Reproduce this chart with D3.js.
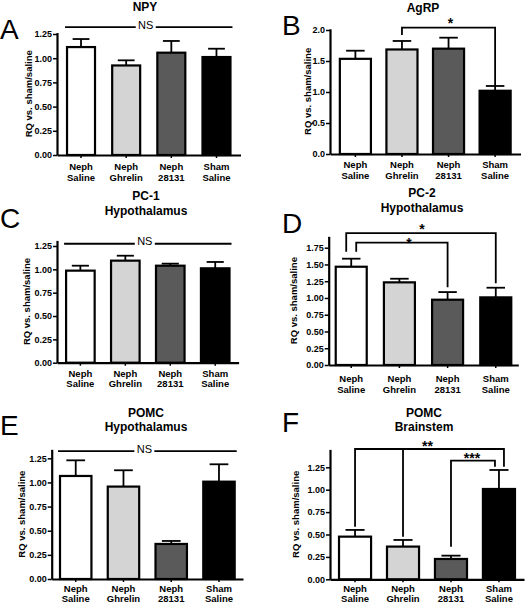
<!DOCTYPE html>
<html>
<head>
<meta charset="utf-8">
<script src="https://cdn.jsdelivr.net/npm/d3@7"></script>
<style>
  html, body { margin: 0; padding: 0; background: #fff; }
  svg { display: block; }
  text { font-family: "Liberation Sans", Arial, Helvetica, sans-serif; }
</style>
</head>
<body>
<svg id="chart" width="525" height="605"></svg>
<script>
// ---------------- DATA ----------------
const categories = ["Neph Saline", "Neph Ghrelin", "Neph 28131", "Sham Saline"];

const npyMean     = [1.115, 0.925, 1.057, 1.012];
const npySem      = [0.083, 0.053, 0.121, 0.086];
const agrpMean    = [1.535, 1.686, 1.699, 1.020];
const agrpSem     = [0.131, 0.137, 0.177, 0.077];
const pc1Mean     = [0.986, 1.093, 1.039, 1.011];
const pc1Sem      = [0.053, 0.053, 0.022, 0.068];
const pc2Mean     = [1.466, 1.233, 0.974, 1.009];
const pc2Sem      = [0.120, 0.054, 0.114, 0.144];
const pomcHypMean = [1.067, 0.957, 0.363, 1.008];
const pomcHypSem  = [0.162, 0.169, 0.031, 0.180];
const pomcBsMean  = [0.476, 0.365, 0.227, 1.008];
const pomcBsSem   = [0.075, 0.074, 0.037, 0.212];

const ticks125 = [0, 0.25, 0.5, 0.75, 1.0, 1.25];
const ticks200 = [0, 0.5, 1.0, 1.5, 2.0];
const ticks175 = [0, 0.25, 0.5, 0.75, 1.0, 1.25, 1.5, 1.75];

const panelLetters = ["A", "B", "C", "D", "E", "F"];
const panelTitles = [["NPY"], ["AgRP"], ["PC-1", "Hypothalamus"], ["PC-2", "Hypothalamus"],
                     ["POMC", "Hypothalamus"], ["POMC", "Brainstem"]];
const yAxisTitle = "RQ vs. sham/saline";
const nsLabel = "NS";

// ---------------- STYLE / LAYOUT ----------------
const barFills = ["#ffffff", "#d4d4d4", "#5a5a5a", "#000000"];
const FONT = '"Liberation Sans", Arial, Helvetica, sans-serif';

const panels = [
  { means: npyMean, sems: npySem, ticks: ticks125, fmt: ".2f",
    x0: 57, x1: 240.5, y0: 155, yRef: 34, ref: 1.25, ymax: 1.265, inner: 0.336, outer: 0.2,
    titleX: 145, titleY: [11], letterX: 0, letterY: 39, ylabOff: 29, catDy: [15, 26],
    ns: { y: 1.322 }, brackets: [] },
  { means: agrpMean, sems: agrpSem, ticks: ticks200, fmt: ".1f",
    x0: 330, x1: 520.5, y0: 154, yRef: 30, ref: 2.0, ymax: 2.02, inner: 0.29, outer: 0.19,
    titleX: 423, titleY: [12], letterX: 282, letterY: 35, ylabOff: 23, catDy: [14.3, 24.6],
    ns: null,
    brackets: [ { a: 1, da: 0, b: 3, db: 0, y: 2.037, ea: 1.92, eb: 1.10, mid: [], label: "*", lx: 2, ly: -8 } ] },
  { means: pc1Mean, sems: pc1Sem, ticks: ticks125, fmt: ".2f",
    x0: 57, x1: 238.6, y0: 362.7, yRef: 246, ref: 1.25, ymax: 1.31, inner: 0.32, outer: 0.18,
    titleX: 146, titleY: [200, 215], letterX: 0, letterY: 228, ylabOff: 31, catDy: [14, 24.3],
    ns: { y: 1.274 }, brackets: [] },
  { means: pc2Mean, sems: pc2Sem, ticks: ticks175, fmt: ".2f",
    x0: 328.7, x1: 518.3, y0: 365, yRef: 247.7, ref: 1.75, ymax: 1.92, inner: 0.315, outer: 0.125,
    titleX: 422, titleY: [197, 211.5], letterX: 282, letterY: 233, ylabOff: 35, catDy: [16.5, 27.5],
    ns: null,
    brackets: [
      { a: 0, da: -5, b: 3, db: 0, y: 1.966, ea: 1.691, eb: 1.219, mid: [], label: "*", lx: 1, ly: -7.6 },
      { a: 0, da: 5, b: 2, db: 0, y: 1.825, ea: 1.691, eb: 1.16, mid: [], label: "*", lx: 7, ly: -3 } ] },
  { means: pomcHypMean, sems: pomcHypSem, ticks: ticks125, fmt: ".2f",
    x0: 51.7, x1: 243, y0: 579, yRef: 458.3, ref: 1.25, ymax: 1.343, inner: 0.30, outer: 0.153,
    titleX: 146, titleY: [417, 431], letterX: 0, letterY: 435, ylabOff: 30, catDy: [12.8, 23.3],
    ns: { y: 1.325 }, brackets: [] },
  { means: pomcBsMean, sems: pomcBsSem, ticks: ticks125, fmt: ".2f",
    x0: 330, x1: 524, y0: 579.3, yRef: 467.3, ref: 1.25, ymax: 1.45, inner: 0.29, outer: 0.167,
    titleX: 424, titleY: [417, 431], letterX: 282, letterY: 432, ylabOff: 35, catDy: [12.7, 23.0],
    ns: null,
    brackets: [
      { a: 0, da: 0, b: 3, db: 5, y: 1.454, ea: 0.587, eb: 1.257, mid: [{ i: 1, e: 0.475 }], label: "**", lx: -2, ly: -6.5 },
      { a: 2, da: 0, b: 3, db: -4, y: 1.324, ea: 0.364, eb: 1.257, mid: [], label: "***", lx: -1, ly: -5.7 } ] }
];

const svg = d3.select("#chart");
svg.append("rect").attr("width", 525).attr("height", 605).attr("fill", "#fff");

function drawPanel(p, idx) {
  const g = svg.append("g");
  const x = d3.scaleBand().domain(categories).range([p.x0, p.x1])
    .paddingInner(p.inner).paddingOuter(p.outer);
  const bw = x.bandwidth();
  const cx = i => x(categories[i]) + bw / 2;
  const ppu = (p.y0 - p.yRef) / p.ref;
  const yTop = p.y0 - p.ymax * ppu;
  const y = d3.scaleLinear().domain([0, p.ymax]).range([p.y0, yTop]);

  // error bars (upper only)
  const eb = g.append("g").attr("stroke", "#000").attr("stroke-width", 1.8).attr("fill", "none");
  p.means.forEach((m, i) => {
    const top = y(m + p.sems[i]);
    eb.append("line").attr("x1", cx(i)).attr("x2", cx(i)).attr("y1", y(m)).attr("y2", top);
    eb.append("line").attr("x1", cx(i) - bw * 0.28).attr("x2", cx(i) + bw * 0.28).attr("y1", top).attr("y2", top);
  });

  // bars
  g.append("g").selectAll("rect").data(p.means).join("rect")
    .attr("x", (d, i) => x(categories[i]) + 1)
    .attr("y", d => y(d))
    .attr("width", bw - 2)
    .attr("height", d => y(0) - y(d))
    .attr("fill", (d, i) => barFills[i])
    .attr("stroke", "#000").attr("stroke-width", 2.2);

  // y axis
  const yAxis = d3.axisLeft(y).tickValues(p.ticks).tickFormat(d3.format(p.fmt))
    .tickSize(4).tickSizeOuter(0).tickPadding(1);
  const ya = g.append("g").attr("transform", `translate(${p.x0},0)`).call(yAxis);
  ya.select(".domain").attr("stroke-width", 2.2);
  ya.selectAll(".tick line").attr("stroke-width", 1.5);
  ya.selectAll(".tick text").attr("font-family", FONT).attr("font-weight", "bold")
    .attr("font-size", 9).attr("fill", "#000");

  // x axis
  const xAxis = d3.axisBottom(x).tickSize(3).tickSizeOuter(0).tickFormat("");
  const xa = g.append("g").attr("transform", `translate(0,${p.y0})`).call(xAxis);
  xa.select(".domain").attr("stroke-width", 2.2);
  xa.selectAll(".tick line").attr("stroke-width", 1.5);
  xa.selectAll(".tick").each(function(d) {
    const parts = d.split(" ");
    const t = d3.select(this);
    parts.forEach((s, k) => {
      t.append("text").attr("y", p.catDy[k]).attr("text-anchor", "middle")
        .attr("font-family", FONT).attr("font-weight", "bold").attr("font-size", 9.5)
        .attr("fill", "#000").text(s);
    });
  });

  // y axis title
  g.append("text")
    .attr("transform", `translate(${p.x0 - p.ylabOff},${(p.y0 + yTop) / 2}) rotate(-90)`)
    .attr("text-anchor", "middle").attr("dominant-baseline", "central")
    .attr("font-family", FONT).attr("font-weight", "bold").attr("font-size", 9.5)
    .text(yAxisTitle);

  // title
  panelTitles[idx].forEach((s, k) => {
    g.append("text").attr("x", p.titleX).attr("y", p.titleY[k]).attr("text-anchor", "middle")
      .attr("font-family", FONT).attr("font-weight", "bold").attr("font-size", 12).text(s);
  });

  // panel letter
  g.append("text").attr("x", p.letterX).attr("y", p.letterY)
    .attr("font-family", FONT).attr("font-size", 28).text(panelLetters[idx]);

  // NS line
  if (p.ns) {
    const xa0 = x(categories[0]) - 1, xb0 = x(categories[3]) + bw + 1;
    const ly = y(p.ns.y);
    const mid = (xa0 + xb0) / 2 - 3;
    const gap = 10;
    g.append("line").attr("x1", xa0).attr("x2", mid - gap).attr("y1", ly).attr("y2", ly)
      .attr("stroke", "#000").attr("stroke-width", 1.8);
    g.append("line").attr("x1", mid + gap).attr("x2", xb0).attr("y1", ly).attr("y2", ly)
      .attr("stroke", "#000").attr("stroke-width", 1.8);
    g.append("text").attr("x", mid).attr("y", ly + 1.5).attr("text-anchor", "middle")
      .attr("font-family", FONT).attr("font-size", 11).text(nsLabel);
  }

  // significance brackets
  p.brackets.forEach(b => {
    const xa1 = cx(b.a) + b.da, xb1 = cx(b.b) + b.db, ly = y(b.y);
    const path = d3.path();
    path.moveTo(xa1, y(b.ea)); path.lineTo(xa1, ly); path.lineTo(xb1, ly); path.lineTo(xb1, y(b.eb));
    b.mid.forEach(m => { path.moveTo(cx(m.i), ly); path.lineTo(cx(m.i), y(m.e)); });
    g.append("path").attr("d", path.toString()).attr("fill", "none")
      .attr("stroke", "#000").attr("stroke-width", 1.8);
    g.append("text").attr("x", (xa1 + xb1) / 2 + b.lx).attr("y", ly + b.ly + 8)
      .attr("text-anchor", "middle").attr("font-family", FONT).attr("font-weight", "bold")
      .attr("font-size", 14).text(b.label);
  });
}

panels.forEach(drawPanel);
</script>
</body>
</html>
